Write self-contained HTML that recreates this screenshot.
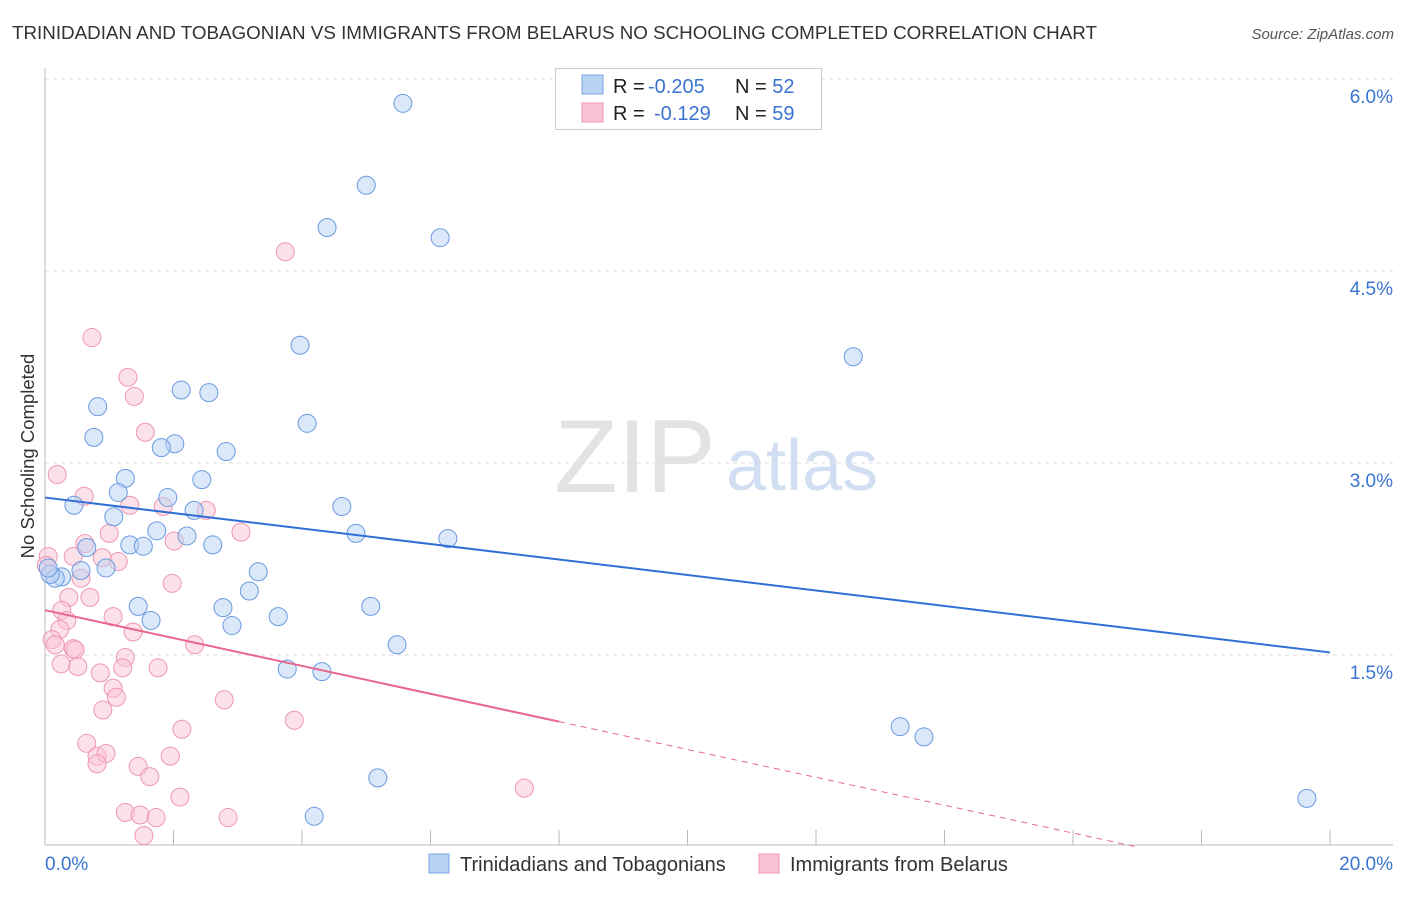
<!DOCTYPE html>
<html><head><meta charset="utf-8"><style>
body{margin:0;background:#fff;font-family:"Liberation Sans",sans-serif;}
svg text{font-family:"Liberation Sans",sans-serif;}
</style></head><body>
<svg id="chart" width="1406" height="892" xmlns="http://www.w3.org/2000/svg">
<text x="12" y="39" font-size="18.8" fill="#333">TRINIDADIAN AND TOBAGONIAN VS IMMIGRANTS FROM BELARUS NO SCHOOLING COMPLETED CORRELATION CHART</text>
<text x="1394" y="39" font-size="15" fill="#555" font-style="italic" text-anchor="end">Source: ZipAtlas.com</text>
<text x="34" y="456" font-size="18.5" fill="#333" text-anchor="middle" transform="rotate(-90 34 456)">No Schooling Completed</text>
<g>
<text x="635" y="492" font-size="104" fill="#ddd" font-family="Liberation Serif" text-anchor="middle" opacity="0.8">ZIP</text>
<text x="802" y="490" font-size="72" fill="#c8d8f0" text-anchor="middle" opacity="0.8">atlas</text>
</g>
<g id="grid"></g><g id="axes"></g><g id="marks"></g>
<g>
<rect x="555.5" y="68.5" width="266" height="61" fill="#fff" stroke="#ccc"/>
<rect x="582" y="75" width="21" height="19" fill="#b8d2f4" stroke="#7aa6e6"/>
<rect x="582" y="103" width="21" height="19" fill="#f9c4d4" stroke="#ee97b2"/>
<text x="613" y="93" font-size="20" fill="#222">R = <tspan fill="#3a74d0" x="648">-0.205</tspan><tspan x="735">N = </tspan><tspan fill="#3a74d0">52</tspan></text>
<text x="613" y="120" font-size="20" fill="#222">R = <tspan fill="#3a74d0" x="654">-0.129</tspan><tspan x="735">N = </tspan><tspan fill="#3a74d0">59</tspan></text>
</g>
<g>
<rect x="429" y="854" width="20" height="19" fill="#b8d2f4" stroke="#7aa6e6"/>
<text x="460" y="871" font-size="20" fill="#333">Trinidadians and Tobagonians</text>
<rect x="759" y="854" width="20" height="19" fill="#f9c4d4" stroke="#ee97b2"/>
<text x="790" y="871" font-size="20" fill="#333">Immigrants from Belarus</text>
</g>
</svg>
<script>
const yTicks=[1.5,3.0,4.5,6.0];
const yTickLabels=["1.5%","3.0%","4.5%","6.0%"];
const xTickLabels=["0.0%","20.0%"];
const blueX=[5.57,5.00,4.39,6.15,12.58,3.97,2.12,2.55,0.82,4.08,0.76,2.02,1.81,2.82,1.25,2.44,1.14,1.91,0.45,4.62,2.32,1.07,1.74,4.84,6.27,2.21,1.32,1.53,2.61,0.65,0.56,3.32,0.95,0.26,0.16,0.08,3.18,1.45,5.07,2.77,3.63,1.65,2.91,5.48,3.77,4.31,13.31,13.68,5.18,4.19,19.64,0.05];
const blueY=[5.81,5.17,4.84,4.76,3.83,3.92,3.57,3.55,3.44,3.31,3.20,3.15,3.12,3.09,2.88,2.87,2.77,2.73,2.67,2.66,2.63,2.58,2.47,2.45,2.41,2.43,2.36,2.35,2.36,2.34,2.16,2.15,2.18,2.11,2.10,2.13,2.00,1.88,1.88,1.87,1.80,1.77,1.73,1.58,1.39,1.37,0.94,0.86,0.54,0.24,0.38,2.18];
const pinkX=[3.74,0.73,1.29,1.39,1.56,0.19,0.61,1.32,1.84,2.51,3.05,1.00,2.01,0.62,1.14,0.89,0.44,0.05,0.56,1.98,0.70,0.37,0.26,1.06,0.34,0.23,1.37,0.11,0.16,0.44,0.47,2.33,1.25,1.21,1.76,0.25,0.51,0.86,1.06,1.11,2.79,0.90,3.88,2.13,0.65,0.81,0.95,0.81,1.95,1.45,1.63,7.46,2.10,1.25,1.48,1.73,2.85,1.54,0.02];
const pinkY=[4.65,3.98,3.67,3.52,3.24,2.91,2.74,2.67,2.66,2.63,2.46,2.45,2.39,2.37,2.23,2.26,2.27,2.27,2.10,2.06,1.95,1.95,1.85,1.80,1.77,1.70,1.68,1.62,1.58,1.55,1.54,1.58,1.48,1.40,1.40,1.43,1.41,1.36,1.24,1.17,1.15,1.07,0.99,0.92,0.81,0.71,0.73,0.65,0.71,0.63,0.55,0.46,0.39,0.27,0.25,0.23,0.23,0.09,2.20];
const blueTrend=[2.73,1.52];
const pinkTrend=[1.85,0.0];
const pinkSolidEnd=8.0;
const NS="http://www.w3.org/2000/svg";
const X=v=>45+v/20*1285, Y=v=>847-v*128;
function el(t,a,p){const e=document.createElementNS(NS,t);for(const k in a)e.setAttribute(k,a[k]);document.getElementById(p).appendChild(e);return e;}
yTicks.forEach((t,i)=>{
 const g=el('line',{x1:45,x2:1393,y1:Y(t),y2:Y(t),stroke:'#ddd','stroke-dasharray':'4,4'},'grid');
 
 
 const l=el('text',{x:1393,y:Y(t)+24,'font-size':19,fill:'#3a74d0','text-anchor':'end'},'axes');l.textContent=yTickLabels[i];
 
 
});
let a=el('line',{x1:45,x2:45,y1:68,y2:845,stroke:'#bbb'},'axes');


a=el('line',{x1:45,x2:1393,y1:845,y2:845,stroke:'#bbb'},'axes');


for(let v=2;v<=20;v+=2){const t=el('line',{x1:X(v),x2:X(v),y1:830,y2:845,stroke:'#bbb'},'axes');
 
 }
let xl=el('text',{x:45,y:870,'font-size':19,fill:'#3a74d0'},'axes');xl.textContent=xTickLabels[0];


xl=el('text',{x:1393,y:870,'font-size':19,fill:'#3a74d0','text-anchor':'end'},'axes');xl.textContent=xTickLabels[1];


function pts(xs,ys,fill,stroke,name){xs.forEach((x,i)=>{const c=el('circle',{cx:X(x),cy:Y(ys[i]),r:9,fill:fill,'fill-opacity':0.5,stroke:stroke,'stroke-width':1},'marks');
 
 });}
pts(pinkX,pinkY,'#f9c4d4','#ee97b2','belarus-point');
pts(blueX,blueY,'#b8d2f4','#6a9ae0','trinidad-point');
let ln=el('line',{x1:X(0),y1:Y(blueTrend[0]),x2:X(20),y2:Y(blueTrend[1]),stroke:'#2f6fd6','stroke-width':2},'marks');


const ps=(pinkTrend[1]-pinkTrend[0])/17;
const py=v=>pinkTrend[0]+ps*v;
ln=el('line',{x1:X(0),y1:Y(py(0)),x2:X(pinkSolidEnd),y2:Y(py(pinkSolidEnd)),stroke:'#e8678f','stroke-width':2},'marks');


ln=el('line',{x1:X(pinkSolidEnd),y1:Y(py(pinkSolidEnd)),x2:X(17),y2:Y(py(17)),stroke:'#e8678f','stroke-width':1,'stroke-dasharray':'6,5'},'marks');


</script>
</body></html>
